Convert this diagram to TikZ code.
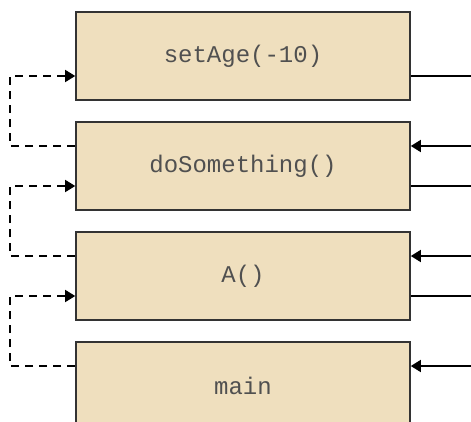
\documentclass[tikz,border=0pt]{standalone}
\usepackage{fontspec}
\setmonofont{Liberation Mono}
\usetikzlibrary{arrows.meta}
\definecolor{boxfill}{RGB}{239,223,190}
\definecolor{boxline}{RGB}{51,51,51}
\definecolor{txt}{RGB}{80,80,80}
\tikzset{
  frame/.style={draw=boxline, line width=1.6pt, fill=boxfill, minimum width=334pt, minimum height=88pt, inner sep=0pt, font=\ttfamily\fontsize{24}{28}\selectfont, text=txt},
  ret/.style={dashed, dash pattern=on 8pt off 6pt, line width=1.6pt, -{Triangle[length=10pt,width=12pt]}},
  call/.style={line width=1.6pt},
  callin/.style={line width=1.6pt, -{Triangle[length=10pt,width=12pt]}}
}
\begin{document}
\begin{tikzpicture}[x=1pt,y=1pt]
\useasboundingbox (0,0) rectangle (471,421);
\clip (0,0) rectangle (471,421);
\node[frame] (b1) at (243,365) {\raisebox{-1pt}{setAge(-10)}};
\node[frame] (b2) at (243,255) {\raisebox{-1pt}{doSomething()}};
\node[frame] (b3) at (243,145) {\raisebox{-1pt}{A()}};
\node[frame] (b4) at (243,35) {\raisebox{-1pt}{main}};
% right side free ends
\coordinate (r1) at (471,345);
\coordinate (r2in) at (471,275);
\coordinate (r2out) at (471,235);
\coordinate (r3in) at (471,165);
\coordinate (r3out) at (471,125);
\coordinate (r4in) at (471,55);
% returns (dashed)
\draw[ret] ([yshift=20pt]b2.west) -- ++(-65,0) |- ([yshift=-20pt]b1.west);
\draw[ret] ([yshift=20pt]b3.west) -- ++(-65,0) |- ([yshift=-20pt]b2.west);
\draw[ret] ([yshift=20pt]b4.west) -- ++(-65,0) |- ([yshift=-20pt]b3.west);
% calls
\draw[call] ([yshift=-20pt]b1.east) -- (r1);
\draw[callin] (r2in) -- ([yshift=20pt]b2.east);
\draw[call] ([yshift=-20pt]b2.east) -- (r2out);
\draw[callin] (r3in) -- ([yshift=20pt]b3.east);
\draw[call] ([yshift=-20pt]b3.east) -- (r3out);
\draw[callin] (r4in) -- ([yshift=20pt]b4.east);
\end{tikzpicture}
\end{document}
